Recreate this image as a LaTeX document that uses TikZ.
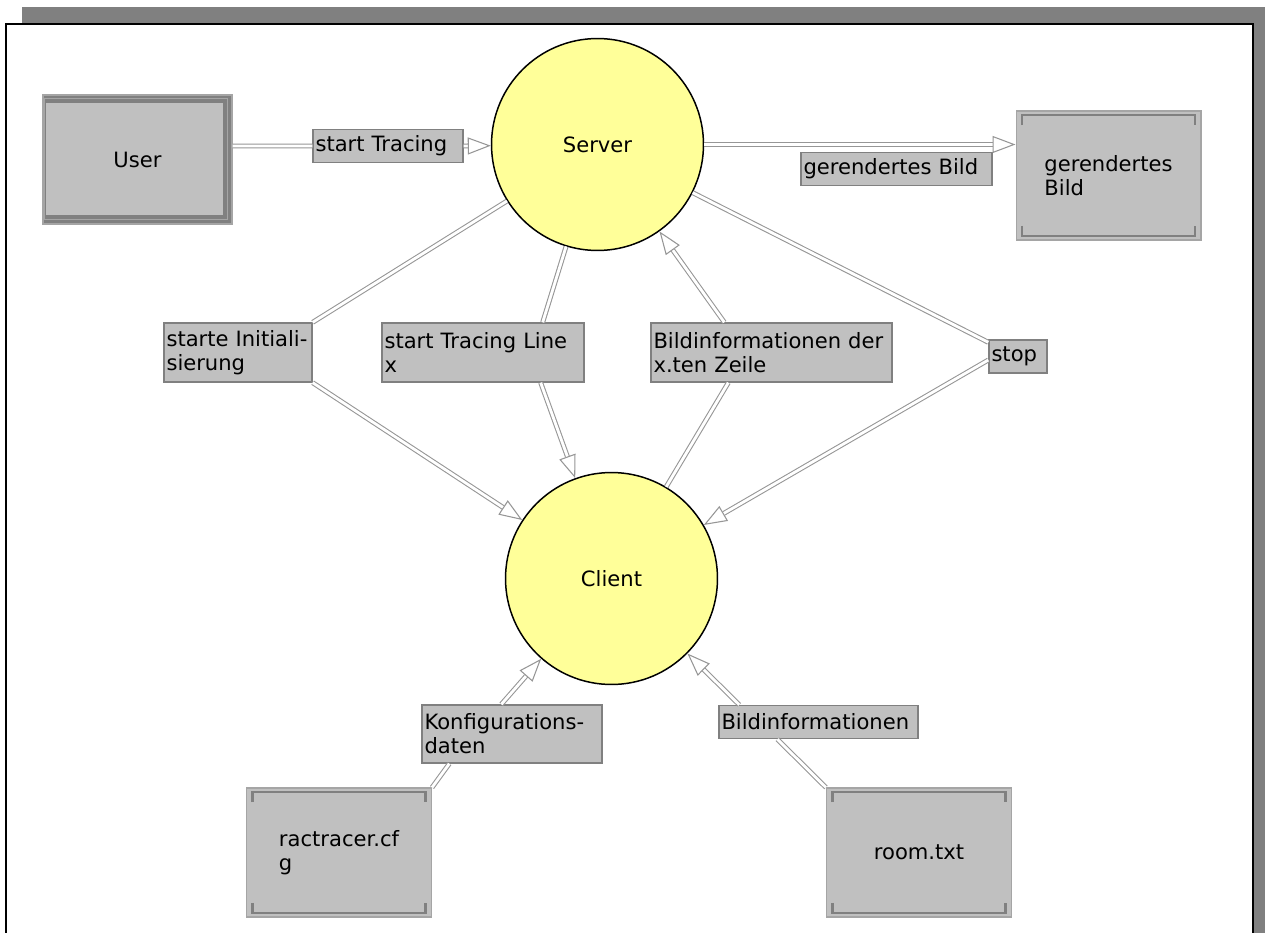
\documentclass[tikz,border=0pt]{standalone}
\usepackage{fontspec}
\setmainfont{DejaVu Sans}
\usepackage{tikz}
\usetikzlibrary{positioning, arrows.meta}

\definecolor{boxgray}{RGB}{192,192,192}
\definecolor{edgegray}{RGB}{165,165,165}
\definecolor{bandgray}{RGB}{128,128,128}
\definecolor{linegray}{RGB}{150,150,150}
\definecolor{bubble}{RGB}{255,255,153}
\definecolor{framegray}{RGB}{128,128,128}

\begin{document}
\begin{tikzpicture}[
    x=0.02cm, y=-0.02cm,
    font=\fontsize{12}{13.7}\selectfont,
    process/.style={circle, draw=black, line width=0.85pt, fill=bubble,
        minimum size=4.24cm, inner sep=0pt},
    actor/.style={rectangle, draw=edgegray, line width=0.6pt, fill=boxgray,
        minimum width=3.78cm, minimum height=2.58cm,
        path picture={
            \fill[bandgray] (path picture bounding box.north west)
                rectangle (path picture bounding box.south east);
            \fill[boxgray] ([shift={(0.06cm,-0.16cm)}]path picture bounding box.north west)
                rectangle ([shift={(-0.18cm,0.18cm)}]path picture bounding box.south east);
            \draw[edgegray, line width=0.5pt] ([shift={(0.03cm,-0.07cm)}]path picture bounding box.north west)
                rectangle ([shift={(-0.09cm,0.09cm)}]path picture bounding box.south east);
        }},
    filebox/.style={rectangle, draw=edgegray, line width=0.6pt, fill=boxgray,
        minimum width=3.7cm, minimum height=2.58cm, align=left,
        path picture={
            \draw[bandgray, line width=1.3pt]
                ([shift={(0.12cm,-0.28cm)}]path picture bounding box.north west)
                |- ([shift={(-0.12cm,-0.08cm)}]path picture bounding box.north east)
                -- ++(0,-0.2cm);
            \draw[bandgray, line width=1.3pt]
                ([shift={(0.12cm,0.28cm)}]path picture bounding box.south west)
                |- ([shift={(-0.12cm,0.08cm)}]path picture bounding box.south east)
                -- ++(0,0.2cm);
        }},
    tag/.style={rectangle, draw=bandgray, line width=0.8pt, fill=boxgray,
        inner xsep=0.05cm, inner ysep=1pt, align=left, minimum height=0.66cm},
    flow/.style={draw=linegray, line width=0.6pt, double=white, double distance=1.6pt,
        -{Triangle[open, length=0.46cm, width=0.34cm, fill=white]}}
]

% Window frame
\useasboundingbox (0,0) rectangle (1265,933);
\clip (0,0) rectangle (1265,933);
\fill[framegray] (22,7) rectangle (1265,933);
\draw[fill=white, line width=1.1pt] (6,24) rectangle (1253,950);

% Processes
\node[process] (server) at (597.5,144.5) {Server};
\node[process] (client) at (611.5,578.5) {Client};

% Terminators and data
\node[actor] (user) at (137.5,159.5) {User};
\node[filebox] (bild) at (1108.5,175.5) {gerendertes\\Bild};
\node[filebox] (cfg) at (339,852.5) {ractracer.cf\\g};
\node[filebox] (room) at (919,852.5) {room.txt};

% Flow labels
\node[tag, text width=2.9cm] (tstart) at (388,146) {start Tracing};
\node[tag, text width=3.72cm] (tbild) at (896.5,169) {gerendertes Bild};
\node[tag, text width=2.86cm, minimum height=1.18cm] (tinit) at (238,352.5)
    {starte~Initiali-\\sierung};
\node[tag, text width=3.94cm, minimum height=1.18cm] (tline) at (483,352.5)
    {start Tracing Line\\x};
\node[tag, text width=4.72cm, minimum height=1.18cm] (tzeile) at (771.5,352.5)
    {Bildinformationen der\\x.ten Zeile};
\node[tag, text width=1.06cm] (tstop) at (1018,356.5) {stop};
\node[tag, text width=3.5cm, minimum height=1.16cm] (tkonf) at (512,734)
    {Konfigurations-\\daten};
\node[tag, text width=3.88cm] (tinfo) at (818.5,722) {Bildinformationen};

% Flows
\draw[flow] (user.east |- tstart) -- (tstart.west) (tstart.east) -- (server);
\draw[flow] (server.east) -- (bild.west |- server);
\draw[flow] (server) -- (tinit.north east) (tinit.south east) -- (client);
\draw[flow] (server) -- ([xshift=-0.84cm]tline.north east)
    ([xshift=-0.88cm]tline.south east) -- (client);
\draw[flow] (client) -- ([xshift=1.56cm]tzeile.south west)
    ([xshift=1.48cm]tzeile.north west) -- (server);
\draw[flow] (server) -- ([yshift=-0.06cm]tstop.north west)
    ([yshift=-0.07cm]tstop.west) -- (client);
\draw[flow] (cfg.north east) -- ([xshift=0.56cm]tkonf.south west)
    ([xshift=1.6cm]tkonf.north west) -- (client);
\draw[flow] (room.north west) -- ([xshift=1.18cm]tinfo.south west)
    ([xshift=0.42cm]tinfo.north west) -- (client);

\end{tikzpicture}
\end{document}
